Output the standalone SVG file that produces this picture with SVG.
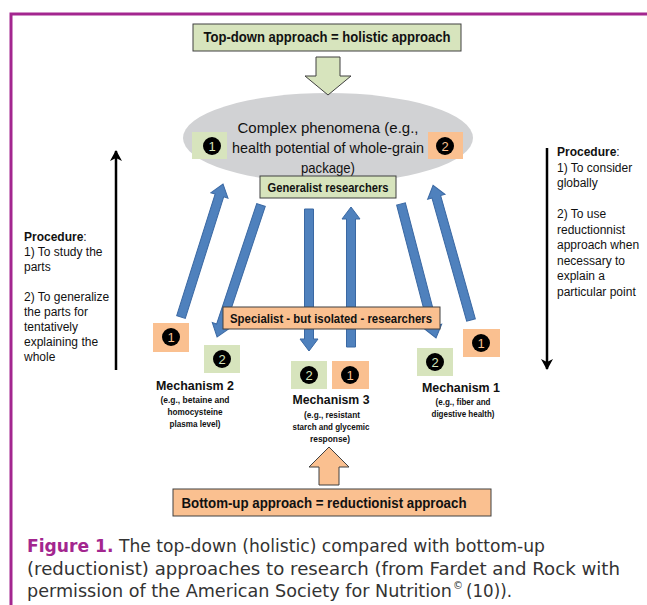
<svg xmlns="http://www.w3.org/2000/svg" width="647" height="605" viewBox="0 0 647 605">
<style>
.box{stroke:#404040;stroke-width:1}
.g{fill:#d7e4bd}
.o{fill:#fac090}
.t{font-family:"Liberation Sans",Arial,sans-serif;fill:#111}
.b{font-weight:bold}
.blue{fill:#4f81bd;stroke:#3a68a3;stroke-width:1}
.proc{font-family:"Liberation Sans",Arial,sans-serif;font-size:12px;fill:#111}
.cap{font-family:"DejaVu Sans",sans-serif;font-size:17px;fill:#333}
.num{font-family:"Liberation Sans",Arial,sans-serif;font-size:13px;text-anchor:middle}
</style>
<defs>
<marker id="blk" markerWidth="14" markerHeight="14" refX="10" refY="6" orient="auto" markerUnits="userSpaceOnUse">
<path d="M0,0 L11,6 L0,12 L3,6 Z" fill="#000"/>
</marker>
</defs>
<rect x="0" y="0" width="647" height="605" fill="#fff"/>
<g id="frame" fill="none" stroke="#a3268f" stroke-width="3">
<path d="M647,14 H11 V605"/>
</g>

<g id="ellipse-node">
<ellipse cx="328" cy="138" rx="145" ry="45" fill="#d1d2d4"/>
<text class="t" font-size="15" text-anchor="middle" x="328" y="133" textLength="181" lengthAdjust="spacingAndGlyphs">Complex phenomena (e.g.,</text>
<text class="t" font-size="15" text-anchor="middle" x="328" y="153" textLength="192" lengthAdjust="spacingAndGlyphs">health potential of whole-grain</text>
<text class="t" font-size="15" text-anchor="middle" x="328" y="173" textLength="54" lengthAdjust="spacingAndGlyphs">package)</text>
</g>
<g id="badge-ell-1"><rect class="g" x="192" y="132" width="35" height="27"/><circle cx="212" cy="146" r="9" fill="#000"/><text class="num" x="212" y="151" fill="#d7e4bd">1</text></g>
<g id="badge-ell-2"><rect class="o" x="428" y="132" width="35" height="27"/><circle cx="445" cy="146" r="9" fill="#000"/><text class="num" x="445" y="151" fill="#fac090">2</text></g>

<g id="top-box">
<rect class="box g" x="193" y="24" width="268" height="27"/>
<text class="t b" font-size="14" text-anchor="middle" x="327" y="42" textLength="247" lengthAdjust="spacingAndGlyphs">Top-down approach = holistic approach</text>
</g>
<g id="top-arrow">
<path class="box g" d="M316,57 H340 V76 H351 L328,95 L305,76 H316 Z"/>
</g>

<g id="connectors">
<path class="blue" transform="translate(181,317) rotate(-72.47)" d="M0,-4.5 H127.5 V-9 L139.5,0 L127.5,9 V4.5 H0 Z"/>
<path class="blue" transform="translate(261,205) rotate(108.43)" d="M0,-4.5 H127 V-9 L139,0 L127,9 V4.5 H0 Z"/>
<path class="blue" transform="translate(309,209) rotate(90)" d="M0,-4.5 H130 V-9 L142,0 L130,9 V4.5 H0 Z"/>
<path class="blue" transform="translate(351,347) rotate(-90)" d="M0,-4.5 H128 V-9 L140,0 L128,9 V4.5 H0 Z"/>
<path class="blue" transform="translate(401,204) rotate(75.36)" d="M0,-4.5 H126.5 V-9 L138.5,0 L126.5,9 V4.5 H0 Z"/>
<path class="blue" transform="translate(471,320) rotate(-105.72)" d="M0,-4.5 H128 V-9 L140,0 L128,9 V4.5 H0 Z"/>
<line x1="116" y1="370" x2="116" y2="151" stroke="#000" stroke-width="2.5" marker-end="url(#blk)"/>
<line x1="547" y1="148" x2="547" y2="369" stroke="#000" stroke-width="2.5" marker-end="url(#blk)"/>
</g>

<g id="generalist">
<rect class="box g" x="260" y="176" width="136" height="22"/>
<text class="t b" font-size="13" text-anchor="middle" x="328" y="192" textLength="121" lengthAdjust="spacingAndGlyphs">Generalist researchers</text>
</g>
<g id="specialist">
<rect class="box o" x="223" y="307" width="217" height="22"/>
<text class="t b" font-size="13" text-anchor="middle" x="331" y="323" textLength="202" lengthAdjust="spacingAndGlyphs">Specialist - but isolated - researchers</text>
</g>

<g id="badge-l1"><rect class="o" x="153" y="323" width="36" height="29"/><circle cx="171" cy="337" r="9" fill="#000"/><text class="num" x="171" y="342" fill="#fac090">1</text></g>
<g id="badge-l2"><rect class="g" x="204" y="345" width="36" height="28"/><circle cx="222" cy="359" r="9" fill="#000"/><text class="num" x="222" y="364" fill="#d7e4bd">2</text></g>
<g id="badge-m2"><rect class="g" x="291" y="361" width="36" height="28"/><circle cx="309" cy="375" r="9" fill="#000"/><text class="num" x="309" y="380" fill="#d7e4bd">2</text></g>
<g id="badge-m1"><rect class="o" x="332" y="361" width="37" height="28"/><circle cx="350" cy="375" r="9" fill="#000"/><text class="num" x="350" y="380" fill="#fac090">1</text></g>
<g id="badge-r2"><rect class="g" x="417" y="348" width="36" height="28"/><circle cx="435" cy="362" r="9" fill="#000"/><text class="num" x="435" y="367" fill="#d7e4bd">2</text></g>
<g id="badge-r1"><rect class="o" x="463" y="329" width="37" height="28"/><circle cx="481" cy="343" r="9" fill="#000"/><text class="num" x="481" y="348" fill="#fac090">1</text></g>

<g id="mechanism2" class="t b" text-anchor="middle">
<text x="195" y="390" font-size="12" textLength="78" lengthAdjust="spacingAndGlyphs">Mechanism 2</text>
<text x="195" y="403" font-size="8.5" textLength="69" lengthAdjust="spacingAndGlyphs">(e.g., betaine and</text>
<text x="195" y="415" font-size="8.5" textLength="55" lengthAdjust="spacingAndGlyphs">homocysteine</text>
<text x="195" y="427" font-size="8.5" textLength="51" lengthAdjust="spacingAndGlyphs">plasma level)</text>
</g>
<g id="mechanism3" class="t b" text-anchor="middle">
<text x="331" y="404" font-size="12" textLength="77" lengthAdjust="spacingAndGlyphs">Mechanism 3</text>
<text x="332" y="418" font-size="8.5" textLength="56" lengthAdjust="spacingAndGlyphs">(e.g., resistant</text>
<text x="331" y="430" font-size="8.5" textLength="77" lengthAdjust="spacingAndGlyphs">starch and glycemic</text>
<text x="330" y="442" font-size="8.5" textLength="40" lengthAdjust="spacingAndGlyphs">response)</text>
</g>
<g id="mechanism1" class="t b" text-anchor="middle">
<text x="461" y="392" font-size="12" textLength="78" lengthAdjust="spacingAndGlyphs">Mechanism 1</text>
<text x="463" y="405" font-size="8.5" textLength="55" lengthAdjust="spacingAndGlyphs">(e.g., fiber and</text>
<text x="463" y="417" font-size="8.5" textLength="63" lengthAdjust="spacingAndGlyphs">digestive health)</text>
</g>

<g id="bottom-arrow">
<path class="box o" d="M319,485 V467 H309 L329,447 L349,467 H339 V485 Z"/>
</g>
<g id="bottom-box">
<rect class="box o" x="173" y="489" width="318" height="27"/>
<text class="t b" font-size="14" text-anchor="middle" x="324" y="508" textLength="285" lengthAdjust="spacingAndGlyphs">Bottom-up approach = reductionist approach</text>
</g>

<g id="left-procedure" class="proc">
<text x="24" y="241"><tspan font-weight="bold">Procedure</tspan>:</text>
<text x="24" y="256">1) To study the</text>
<text x="24" y="271">parts</text>
<text x="24" y="301">2) To generalize</text>
<text x="24" y="316">the parts for</text>
<text x="24" y="331">tentatively</text>
<text x="24" y="346">explaining the</text>
<text x="24" y="361">whole</text>
</g>
<g id="right-procedure" class="proc">
<text x="557" y="156"><tspan font-weight="bold">Procedure</tspan>:</text>
<text x="557" y="171.5">1) To consider</text>
<text x="557" y="187">globally</text>
<text x="557" y="218">2) To use</text>
<text x="557" y="233.5">reductionnist</text>
<text x="557" y="249">approach when</text>
<text x="557" y="264.5">necessary to</text>
<text x="557" y="280">explain a</text>
<text x="557" y="295.5">particular point</text>
</g>

<g id="caption" class="cap">
<text x="27" y="552" textLength="518" lengthAdjust="spacingAndGlyphs"><tspan fill="#a3268f" font-weight="bold">Figure 1.</tspan> The top-down (holistic) compared with bottom-up</text>
<text x="27" y="575" textLength="593" lengthAdjust="spacingAndGlyphs">(reductionist) approaches to research (from Fardet and Rock with</text>
<text x="27" y="597" textLength="425" lengthAdjust="spacingAndGlyphs">permission of the American Society for Nutrition</text>
<text x="453" y="589" font-size="10">©</text>
<text x="466" y="597" textLength="46" lengthAdjust="spacingAndGlyphs">(10)).</text>
</g>
</svg>
